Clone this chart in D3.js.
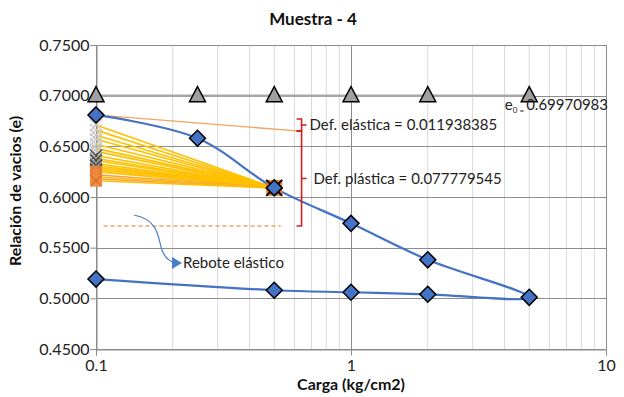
<!DOCTYPE html>
<html>
<head>
<meta charset="utf-8">
<script src="https://cdn.jsdelivr.net/npm/d3@7"></script>
<style>
  body { margin: 0; background: #fff; }
  svg { font-family: Lato, "Open Sans", sans-serif; }
</style>
</head>
<body>
<div id="chart"></div>
<script>
// Datos
const cargas = [0.1, 0.25, 0.5, 1, 2, 5];
const eInicial = [0.7, 0.7, 0.7, 0.7, 0.7, 0.7];
const cargaCurva = [0.1, 0.25, 0.5, 1, 2, 5, 2, 1, 0.5, 0.1];
const eCurva = [0.681, 0.658, 0.609, 0.574, 0.538, 0.501, 0.504, 0.506, 0.508, 0.519];
const eTanteoGris = [0.671, 0.666, 0.661, 0.657, 0.652, 0.648, 0.645, 0.641, 0.638, 0.636, 0.633, 0.631, 0.629, 0.627];
const eTanteoNaranja = [0.625, 0.622, 0.620, 0.618, 0.616];
const puntoFinal = [0.5, 0.609];
const lineaElastica = [[0.1, 0.681], [0.63, 0.665]];
const lineaRebote = [[0.107, 0.5714], [0.53, 0.5714]];
const llaveElastica = [0.677, 0.665];
const llavePlastica = [0.665, 0.5714];
const cargaLlave = 0.64;
const yTicks = [0.45, 0.5, 0.55, 0.6, 0.65, 0.7, 0.75];
const xTicks = [0.1, 1, 10];
const e0Texto = "0.69970983";
const textoElastica = "Def. elástica = 0.011938385";
const textoPlastica = "Def. plástica = 0.077779545";

const W = 624, H = 397;
const M = { left: 96, right: 18, top: 45, bottom: 48 };

const svg = d3.select('#chart').append('svg')
  .attr('width', W).attr('height', H);

const x = d3.scaleLog().domain([0.1, 10]).range([M.left, W - M.right]);
const y = d3.scaleLinear().domain([0.45, 0.75]).range([H - M.bottom, M.top]);

// minor vertical grid
const minors = [];
[0.1, 1].forEach(d => { for (let k = 2; k <= 9; k++) minors.push(d * k); });
svg.append('g').selectAll('line').data(minors).join('line')
  .attr('x1', d => x(d)).attr('x2', d => x(d))
  .attr('y1', y(0.45)).attr('y2', y(0.75))
  .attr('stroke', '#d9d9d9').attr('stroke-width', 1);

// major grid
svg.append('g').selectAll('line').data(yTicks).join('line')
  .attr('x1', x(0.1)).attr('x2', x(10))
  .attr('y1', d => Math.round(y(d)) + 0.5).attr('y2', d => Math.round(y(d)) + 0.5)
  .attr('stroke', '#8c8c8c').attr('stroke-width', 1);
svg.append('g').selectAll('line').data(xTicks).join('line')
  .attr('x1', d => Math.round(x(d)) + 0.5).attr('x2', d => Math.round(x(d)) + 0.5)
  .attr('y1', y(0.45)).attr('y2', y(0.75))
  .attr('stroke', '#8c8c8c').attr('stroke-width', 1);

// axes
const yAxis = svg.append('g')
  .attr('transform', `translate(${Math.round(x(0.1)) + 0.5},0)`)
  .call(d3.axisLeft(y).tickValues(yTicks).tickFormat(d3.format('.4f')).tickSize(6));
const xAxis = svg.append('g')
  .attr('transform', `translate(0,${Math.round(y(0.45)) + 0.5})`)
  .call(d3.axisBottom(x).tickValues(xTicks).tickFormat(d => String(d)).tickSize(6));
[yAxis, xAxis].forEach(a => {
  a.select('.domain').attr('stroke', '#8c8c8c');
  a.selectAll('.tick line').attr('stroke', '#8c8c8c');
  a.selectAll('.tick text').attr('font-size', 16).attr('fill', '#222')
    .attr('font-family', 'Lato, "Open Sans", sans-serif');
});
yAxis.selectAll('.tick text').attr('x', -7);
xAxis.selectAll('.tick text').attr('y', 10);

// e0 line with triangles
svg.append('path')
  .attr('d', d3.line().x(d => x(d[0])).y(d => y(d[1]))(cargas.map((c, i) => [c, eInicial[i]])))
  .attr('fill', 'none').attr('stroke', '#a6a6a6').attr('stroke-width', 2.5);
svg.append('g').selectAll('path').data(cargas).join('path')
  .attr('transform', (d, i) => `translate(${x(d)},${y(eInicial[i])})`)
  .attr('d', 'M0,-9L8,6L-8,6Z')
  .attr('fill', '#a0a0a0').attr('stroke', '#000').attr('stroke-width', 1.5);

// elastic line
svg.append('path')
  .attr('d', d3.line().x(d => x(d[0])).y(d => y(d[1]))(lineaElastica))
  .attr('fill', 'none').attr('stroke', '#f4a460').attr('stroke-width', 1.3);

// trial lines
const gT = svg.append('g');
eTanteoGris.forEach(e => {
  gT.append('line')
    .attr('x1', x(0.1)).attr('y1', y(e)).attr('x2', x(puntoFinal[0])).attr('y2', y(puntoFinal[1]))
    .attr('stroke', '#ffc000').attr('stroke-width', 1.6);
});
eTanteoNaranja.forEach((e, i) => {
  gT.append('line')
    .attr('x1', x(0.1)).attr('y1', y(e)).attr('x2', x(puntoFinal[0])).attr('y2', y(puntoFinal[1]))
    .attr('stroke', i % 2 ? '#f4a24a' : '#ffc000').attr('stroke-width', 1.6);
});

// blue curve
svg.append('path')
  .attr('d', d3.line().curve(d3.curveCatmullRom.alpha(0.5))
    .x(d => x(d[0])).y(d => y(d[1]))(cargaCurva.map((c, i) => [c, eCurva[i]])))
  .attr('fill', 'none').attr('stroke', '#4472c4').attr('stroke-width', 2.2);

// gray x markers
const xm = 6;
eTanteoGris.forEach((e, i) => {
  const cx = x(0.1), cy = y(e);
  gT.append('path')
    .attr('d', `M${cx - xm},${cy - xm}L${cx + xm},${cy + xm}M${cx - xm},${cy + xm}L${cx + xm},${cy - xm}`)
    .attr('stroke', i < 7 ? '#c8c8c8' : (i % 2 ? '#444' : '#999')).attr('stroke-width', 1.4);
});
// orange squares
eTanteoNaranja.forEach(e => {
  const cx = x(0.1), cy = y(e);
  gT.append('rect').attr('x', cx - 6).attr('y', cy - 6).attr('width', 12).attr('height', 12)
    .attr('fill', '#f08a3c').attr('opacity', 0.9);
  gT.append('path')
    .attr('d', `M${cx - 5},${cy - 5}L${cx + 5},${cy + 5}M${cx - 5},${cy + 5}L${cx + 5},${cy - 5}`)
    .attr('stroke', '#c0602a').attr('stroke-width', 1);
});

// final point
{
  const cx = x(puntoFinal[0]), cy = y(puntoFinal[1]);
  svg.append('rect').attr('x', cx - 8).attr('y', cy - 8).attr('width', 16).attr('height', 16)
    .attr('fill', '#ed7d31');
  svg.append('path')
    .attr('d', `M${cx - 8},${cy - 8}L${cx + 8},${cy + 8}M${cx - 8},${cy + 8}L${cx + 8},${cy - 8}`)
    .attr('stroke', '#000').attr('stroke-width', 2);
}

// diamonds
svg.append('g').selectAll('path').data(cargaCurva).join('path')
  .attr('transform', (d, i) => `translate(${x(d)},${y(eCurva[i])})`)
  .attr('d', 'M0,-8L8,0L0,8L-8,0Z')
  .attr('fill', '#4472c4').attr('stroke', '#000').attr('stroke-width', 1.5);

// rebote dashed line
svg.append('path')
  .attr('d', d3.line().x(d => x(d[0])).y(d => y(d[1]))(lineaRebote))
  .attr('fill', 'none').attr('stroke', '#f4a460').attr('stroke-width', 1.4)
  .attr('stroke-dasharray', '4,3');

// brackets
function llave(y0, y1) {
  const bx = x(cargaLlave), t = y(y0), b = y(y1), m = (t + b) / 2;
  svg.append('path')
    .attr('d', `M${bx - 5},${t}L${bx},${t}L${bx},${b}L${bx - 5},${b}M${bx},${m}L${bx + 5},${m}`)
    .attr('fill', 'none').attr('stroke', '#d42020').attr('stroke-width', 1.6);
  return m;
}
const mE = llave(llaveElastica[0], llaveElastica[1]);
const mP = llave(llavePlastica[0], llavePlastica[1]);
svg.append('text').attr('x', x(cargaLlave) + 8).attr('y', mE + 5)
  .attr('font-size', 15).attr('fill', '#222').text(textoElastica);
svg.append('text').attr('x', x(cargaLlave) + 12).attr('y', mP + 5)
  .attr('font-size', 15).attr('fill', '#222').text(textoPlastica);

// e0 label
const tE0 = svg.append('text').attr('x', 608).attr('y', 110).attr('text-anchor', 'end')
  .attr('font-size', 15).attr('fill', '#222');
tE0.append('tspan').text('e');
tE0.append('tspan').attr('font-size', 8).attr('dy', 3).text('0 = ');
tE0.append('tspan').attr('dy', -3).text(e0Texto);

// rebote arrow
svg.append('path')
  .attr('d', 'M134,215 C160,220 158,240 162,250 C165,258 170,262 176,263')
  .attr('fill', 'none').attr('stroke', '#4a7fc8').attr('stroke-width', 1.2);
svg.append('path').attr('d', 'M172,257L182,263L172,269Z').attr('fill', '#4a7fc8');
svg.append('text').attr('x', 183).attr('y', 268).attr('font-size', 15).attr('fill', '#222')
  .text('Rebote elástico');

// titles
svg.append('text').attr('x', 313).attr('y', 25).attr('text-anchor', 'middle')
  .attr('font-size', 17).attr('font-weight', 'bold').attr('fill', '#111').text('Muestra - 4');
svg.append('text').attr('x', 351).attr('y', 390).attr('text-anchor', 'middle')
  .attr('font-size', 16).attr('font-weight', 'bold').attr('fill', '#111').text('Carga (kg/cm2)');
svg.append('text').attr('transform', `translate(21,191) rotate(-90)`)
  .attr('text-anchor', 'middle').attr('font-size', 16).attr('font-weight', 'bold').attr('fill', '#111')
  .text('Relación de vacios (e)');
</script>
</body>
</html>
